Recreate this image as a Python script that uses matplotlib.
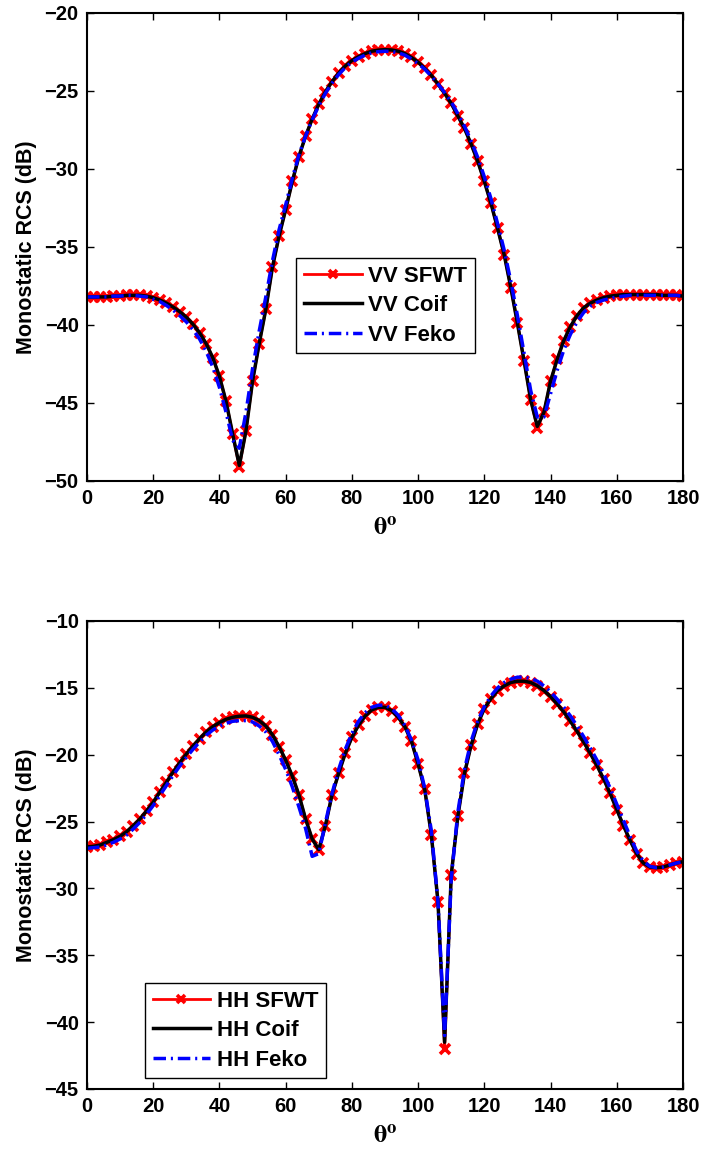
import matplotlib
matplotlib.use("Agg")
import matplotlib.pyplot as plt
import numpy as np

plt.rcParams['font.family'] = ['Liberation Sans', 'DejaVu Sans']
plt.rcParams['font.weight'] = 'bold'
plt.rcParams['mathtext.fontset'] = 'stix'
plt.rcParams['lines.scale_dashes'] = False

# angles (deg), 2 degree steps
theta = list(range(0, 181, 2))

# VV polarisation (dB)
vv_coif = [-38.2, -38.2, -38.2, -38.2, -38.15, -38.15, -38.1, -38.1, -38.1, -38.15,
           -38.25, -38.4, -38.6, -38.85, -39.15, -39.5, -39.95, -40.5, -41.2, -42.1,
           -43.3, -44.9, -47.0, -49.0, -46.8, -43.6, -41.2, -39.0, -36.3, -34.3,
           -32.6, -30.8, -29.2, -27.9, -26.8, -25.85, -25.05, -24.4, -23.85, -23.4,
           -23.05, -22.8, -22.6, -22.45, -22.38, -22.35, -22.37, -22.45, -22.6, -22.85,
           -23.15, -23.55, -24.0, -24.55, -25.15, -25.8, -26.6, -27.4, -28.4, -29.5,
           -30.8, -32.2, -33.8, -35.5, -37.6, -39.9, -42.3, -44.8, -46.5, -45.6,
           -43.6, -42.2, -41.0, -40.1, -39.4, -38.9, -38.6, -38.4, -38.25, -38.15,
           -38.1, -38.05, -38.05, -38.05, -38.05, -38.05, -38.05, -38.1, -38.1, -38.1,
           -38.15]
vv_sfwt = [-38.2, -38.2, -38.2, -38.2, -38.15, -38.15, -38.1, -38.1, -38.1, -38.15,
           -38.25, -38.4, -38.6, -38.85, -39.15, -39.5, -39.95, -40.5, -41.2, -42.1,
           -43.3, -44.9, -47.0, -49.1, -46.8, -43.6, -41.2, -39.0, -36.3, -34.3,
           -32.6, -30.8, -29.2, -27.9, -26.8, -25.85, -25.05, -24.4, -23.85, -23.4,
           -23.05, -22.8, -22.6, -22.45, -22.38, -22.35, -22.37, -22.45, -22.6, -22.85,
           -23.15, -23.55, -24.0, -24.55, -25.15, -25.8, -26.6, -27.4, -28.4, -29.5,
           -30.8, -32.2, -33.8, -35.5, -37.6, -39.9, -42.3, -44.8, -46.6, -45.6,
           -43.6, -42.2, -41.0, -40.1, -39.4, -38.9, -38.6, -38.4, -38.25, -38.15,
           -38.1, -38.05, -38.05, -38.05, -38.05, -38.05, -38.05, -38.1, -38.1, -38.1,
           -38.15]
vv_feko = [-38.2, -38.2, -38.2, -38.2, -38.15, -38.15, -38.1, -38.1, -38.15, -38.2,
           -38.35, -38.5, -38.75, -39.05, -39.4, -39.8, -40.3, -40.9, -41.7, -42.7,
           -44.0, -45.6, -47.4, -47.9, -45.6, -42.8, -40.4, -38.2, -35.9, -33.9,
           -32.3, -30.6, -29.1, -27.9, -26.85, -25.95, -25.15, -24.5, -23.95, -23.5,
           -23.15, -22.9, -22.7, -22.55, -22.48, -22.45, -22.47, -22.55, -22.7, -22.95,
           -23.25, -23.6, -24.05, -24.55, -25.1, -25.7, -26.45, -27.25, -28.2, -29.25,
           -30.5, -31.9, -33.5, -35.2, -37.2, -39.4, -41.8, -44.2, -45.9, -45.9,
           -44.4, -42.9, -41.6, -40.6, -39.8, -39.2, -38.8, -38.55, -38.4, -38.3,
           -38.2, -38.15, -38.1, -38.1, -38.1, -38.1, -38.1, -38.1, -38.1, -38.1,
           -38.15]

# HH polarisation (dB)
hh_coif = [-26.9, -26.85, -26.75, -26.55, -26.35, -26.1, -25.75, -25.3, -24.8, -24.2,
           -23.55, -22.8, -22.05, -21.3, -20.6, -19.95, -19.35, -18.8, -18.3, -17.9,
           -17.6, -17.35, -17.2, -17.12, -17.1, -17.2, -17.45, -17.85, -18.5, -19.4,
           -20.4, -21.6, -23.0, -24.8, -26.3, -27.1, -25.3, -23.0, -21.4, -19.9,
           -18.7, -17.8, -17.1, -16.65, -16.45, -16.45, -16.7, -17.2, -17.9, -19.0,
           -20.7, -22.6, -26.0, -31.0, -41.5, -29.0, -24.6, -21.4, -19.3, -17.7,
           -16.55, -15.8, -15.2, -14.85, -14.6, -14.5, -14.5, -14.6, -14.85, -15.2,
           -15.65, -16.2, -16.8, -17.5, -18.25, -19.05, -19.9, -20.8, -21.8, -22.9,
           -24.1, -25.3, -26.4, -27.4, -28.1, -28.4, -28.45, -28.4, -28.25, -28.1,
           -28.0]
hh_sfwt = [-26.9, -26.85, -26.75, -26.55, -26.35, -26.1, -25.75, -25.3, -24.8, -24.2,
           -23.55, -22.8, -22.05, -21.3, -20.6, -19.95, -19.35, -18.8, -18.3, -17.9,
           -17.6, -17.35, -17.2, -17.12, -17.1, -17.2, -17.45, -17.85, -18.5, -19.4,
           -20.4, -21.6, -23.0, -24.8, -26.3, -27.1, -25.3, -23.0, -21.4, -19.9,
           -18.7, -17.8, -17.1, -16.65, -16.45, -16.45, -16.7, -17.2, -17.9, -19.0,
           -20.7, -22.6, -26.0, -31.0, -42.0, -29.0, -24.6, -21.4, -19.3, -17.7,
           -16.55, -15.8, -15.2, -14.85, -14.6, -14.5, -14.5, -14.6, -14.85, -15.2,
           -15.65, -16.2, -16.8, -17.5, -18.25, -19.05, -19.9, -20.8, -21.8, -22.9,
           -24.1, -25.3, -26.4, -27.4, -28.1, -28.4, -28.45, -28.4, -28.25, -28.1,
           -28.0]
hh_feko = [-27.0, -26.95, -26.9, -26.75, -26.55, -26.3, -26.0, -25.55, -25.05, -24.45,
           -23.8, -23.05, -22.3, -21.55, -20.85, -20.2, -19.6, -19.05, -18.55, -18.15,
           -17.85, -17.65, -17.5, -17.45, -17.45, -17.55, -17.85, -18.3, -19.0, -20.0,
           -21.1, -22.4, -23.9, -25.5, -27.6, -27.4, -25.1, -22.9, -21.1, -19.6,
           -18.4, -17.5, -16.85, -16.45, -16.3, -16.3, -16.55, -17.05, -17.8, -18.9,
           -20.4, -22.5, -25.7, -31.0, -41.0, -29.3, -24.3, -21.1, -19.0, -17.5,
           -16.4, -15.6, -15.0, -14.6, -14.35, -14.2, -14.2, -14.3, -14.5, -14.85,
           -15.3, -15.85, -16.45, -17.1, -17.85, -18.65, -19.5, -20.4, -21.4, -22.5,
           -23.7, -24.9, -26.1, -27.2, -27.95, -28.35, -28.45, -28.4, -28.25, -28.1,
           -28.0]

xticks = [0, 20, 40, 60, 80, 100, 120, 140, 160, 180]

fig = plt.figure(figsize=(7.04, 11.52), dpi=100)
ax1 = fig.add_axes([87/704, 1-481/1152, 596/704, 468/1152])
ax2 = fig.add_axes([87/704, 1-1089/1152, 596/704, 468/1152])

dash_dot = (9, 3.5, 1.5, 3.5)


def draw(ax, sfwt, coif, feko, pol, ylim, yticks, leg_anchor):
    ax.plot(theta, sfwt, color='red', lw=2, marker='x', ms=6.5, mew=2.6,
            label=pol + ' SFWT')
    ax.plot(theta, coif, color='black', lw=2.5, label=pol + ' Coif')
    ax.plot(theta, feko, color='blue', lw=2.5, linestyle=(0, dash_dot),
            label=pol + ' Feko')
    ax.set_xlim(0, 180)
    ax.set_ylim(*ylim)
    ax.set_xticks(xticks)
    ax.set_yticks(yticks)
    ax.tick_params(direction='in', length=5, width=1, top=True, right=True,
                   labelsize=14.5, pad=6)
    for lab in ax.get_xticklabels() + ax.get_yticklabels():
        lab.set_fontweight('bold')
    for s in ax.spines.values():
        s.set_linewidth(1.5)
    ax.set_ylabel('Monostatic RCS (dB)', fontsize=15.5, fontweight='bold',
                  labelpad=5)
    ax.set_xlabel(r'$\mathrm{\theta^o}$', fontsize=19, labelpad=6)
    leg = ax.legend(loc='upper left', bbox_to_anchor=leg_anchor,
                    borderaxespad=0, fancybox=False, framealpha=1,
                    edgecolor='black', prop={'size': 16, 'weight': 'bold'},
                    handlelength=2.6, handletextpad=0.3, labelspacing=0.38,
                    borderpad=0.35, markerscale=0.9)
    leg.get_frame().set_linewidth(1.0)


draw(ax1, vv_sfwt, vv_coif, vv_feko, 'VV', (-50, -20),
     [-50, -45, -40, -35, -30, -25, -20], (0.351, 0.4765))
draw(ax2, hh_sfwt, hh_coif, hh_feko, 'HH', (-45, -10),
     [-45, -40, -35, -30, -25, -20, -15, -10], (0.097, 0.2265))

fig.savefig('out.png', dpi=100)
